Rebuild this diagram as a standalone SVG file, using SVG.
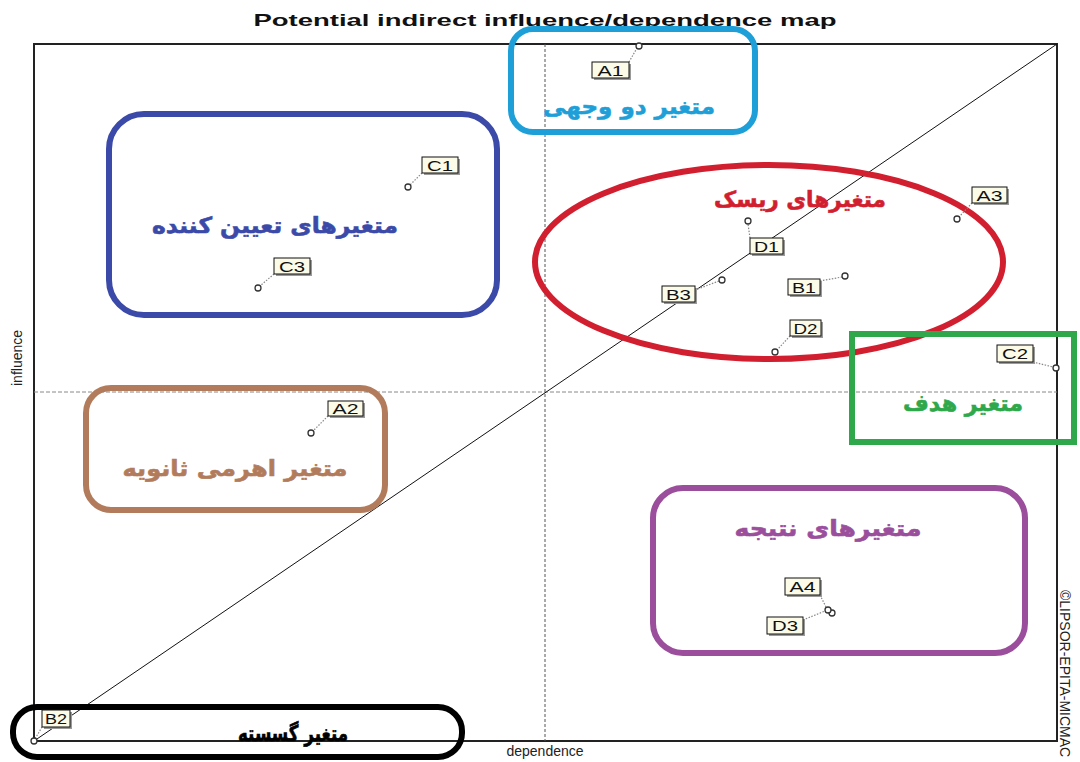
<svg xmlns="http://www.w3.org/2000/svg" width="1080" height="762" viewBox="0 0 1080 762">
<defs>
<style>
.title{font-family:"Liberation Sans",Arial,sans-serif;font-weight:bold;font-size:17px;fill:#111}
.axis{font-family:"Liberation Sans",Arial,sans-serif;font-size:14px;fill:#222}
.lbl{font-family:"Liberation Sans",Arial,sans-serif;font-size:15px;fill:#111}
.box{fill:#fbfbe8;stroke:#111;stroke-width:1}
.shadow{fill:#9a9a9a}
.lead{stroke:#888;stroke-width:1.2;stroke-dasharray:1.5,1.5;fill:none}
.pt{fill:#fff;stroke:#333;stroke-width:1.3}
.fa{font-family:"DejaVu Sans","Noto Sans",sans-serif;font-weight:bold;font-size:22px;stroke-width:0.6}
.grp{fill:none;stroke-width:6}
</style>
</defs>
<rect width="1080" height="762" fill="#fff"/>
<text class="title" x="545" y="26" text-anchor="middle" textLength="583" lengthAdjust="spacingAndGlyphs">Potential indirect influence/dependence map</text>
<g id="frame">
<rect x="34" y="44" width="1023" height="697" fill="none" stroke="#222" stroke-width="2"/>
<line x1="545" y1="44" x2="545" y2="741" stroke="#555" stroke-width="1" stroke-dasharray="3,2"/>
<line x1="34" y1="392" x2="1057" y2="392" stroke="#888" stroke-width="1" stroke-dasharray="4,2"/>
<line x1="34" y1="741" x2="1057" y2="44" stroke="#111" stroke-width="1"/>
<text class="axis" x="545" y="756" text-anchor="middle">dependence</text>
<text class="axis" transform="translate(22,358) rotate(-90)" text-anchor="middle" font-size="13">influence</text>
<text class="axis" transform="translate(1060,590) rotate(90)" font-size="11">©LIPSOR-EPITA-MICMAC</text>
</g>
<g id="groups">
<g id="g-twofold"><rect class="grp" x="511" y="29" width="244" height="103" rx="22" stroke="#1e9fd8"/><text class="fa" x="629" y="114" text-anchor="middle" direction="rtl" fill="#1e9fd8" stroke="#1e9fd8" textLength="172" lengthAdjust="spacingAndGlyphs">متغیر دو وجهی</text></g>
<g id="g-determinant"><rect class="grp" x="109" y="114" width="388" height="201" rx="35" stroke="#3b4aa8"/><text class="fa" x="275" y="233" text-anchor="middle" direction="rtl" fill="#3b4aa8" stroke="#3b4aa8" textLength="246" lengthAdjust="spacingAndGlyphs">متغیرهای تعیین کننده</text></g>
<g id="g-risk"><ellipse class="grp" cx="769" cy="262" rx="234" ry="97" stroke="#d21f2f"/><text class="fa" x="800" y="207" text-anchor="middle" direction="rtl" fill="#d21f2f" stroke="#d21f2f" textLength="172" lengthAdjust="spacingAndGlyphs">متغیرهای ریسک</text></g>
<g id="g-target"><rect class="grp" x="852" y="334" width="222" height="108" stroke="#2ea84a"/><text class="fa" x="963" y="411" text-anchor="middle" direction="rtl" fill="#2ea84a" stroke="#2ea84a" textLength="120" lengthAdjust="spacingAndGlyphs">متغیر هدف</text></g>
<g id="g-secondary"><rect class="grp" x="86" y="388" width="299" height="122" rx="25" stroke="#b27c5c"/><text class="fa" x="235" y="476" text-anchor="middle" direction="rtl" fill="#b27c5c" stroke="#b27c5c" textLength="225" lengthAdjust="spacingAndGlyphs">متغیر اهرمی ثانویه</text></g>
<g id="g-result"><rect class="grp" x="653" y="488" width="372" height="165" rx="30" stroke="#9a4e9c"/><text class="fa" x="828" y="536" text-anchor="middle" direction="rtl" fill="#9a4e9c" stroke="#9a4e9c" textLength="187" lengthAdjust="spacingAndGlyphs">متغیرهای نتیجه</text></g>
<g id="g-autonomous"><rect class="grp" x="13" y="707" width="449" height="50" rx="24" stroke="#000"/><text class="fa" x="293" y="741" text-anchor="middle" direction="rtl" fill="#000" stroke="#000" font-size="20" textLength="110" lengthAdjust="spacingAndGlyphs">متغیر گسسته</text></g>
</g>
<g id="connectors">
<line class="lead" x1="629" y1="62" x2="637" y2="48"/>
<line class="lead" x1="422" y1="173" x2="410" y2="185"/>
<line class="lead" x1="274" y1="274" x2="260" y2="286"/>
<line class="lead" x1="750" y1="238" x2="748" y2="224"/>
<line class="lead" x1="695" y1="290" x2="719" y2="281"/>
<line class="lead" x1="820" y1="281" x2="842" y2="277"/>
<line class="lead" x1="790" y1="336" x2="777" y2="350"/>
<line class="lead" x1="972" y1="203" x2="959" y2="217"/>
<line class="lead" x1="1033" y1="362" x2="1053" y2="367"/>
<line class="lead" x1="328" y1="416" x2="313" y2="431"/>
<line class="lead" x1="820" y1="595" x2="826" y2="607"/>
<line class="lead" x1="803" y1="620" x2="825" y2="611"/>
<line class="lead" x1="42" y1="727" x2="35" y2="739"/>
</g>
<g id="A1"><rect class="shadow" x="594" y="64" width="37" height="16"/><rect class="box" x="592" y="62" width="37" height="16"/><text class="lbl" x="610.5" y="75.5" text-anchor="middle" textLength="26" lengthAdjust="spacingAndGlyphs">A1</text><circle class="pt" cx="639" cy="46" r="3"/></g>
<g id="C1"><rect class="shadow" x="424" y="159" width="36" height="16"/><rect class="box" x="422" y="157" width="36" height="16"/><text class="lbl" x="440" y="170.5" text-anchor="middle" textLength="26" lengthAdjust="spacingAndGlyphs">C1</text><circle class="pt" cx="408" cy="187" r="3"/></g>
<g id="C3"><rect class="shadow" x="276" y="260" width="36" height="16"/><rect class="box" x="274" y="258" width="36" height="16"/><text class="lbl" x="292" y="271.5" text-anchor="middle" textLength="26" lengthAdjust="spacingAndGlyphs">C3</text><circle class="pt" cx="258" cy="288" r="3"/></g>
<g id="D1"><rect class="shadow" x="752" y="240" width="33" height="16"/><rect class="box" x="750" y="238" width="33" height="16"/><text class="lbl" x="766.5" y="251.5" text-anchor="middle" textLength="25" lengthAdjust="spacingAndGlyphs">D1</text><circle class="pt" cx="748" cy="221" r="3"/></g>
<g id="B3"><rect class="shadow" x="664" y="288" width="33" height="16"/><rect class="box" x="662" y="286" width="33" height="16"/><text class="lbl" x="678.5" y="299.5" text-anchor="middle" textLength="25" lengthAdjust="spacingAndGlyphs">B3</text><circle class="pt" cx="722" cy="280" r="3"/></g>
<g id="B1"><rect class="shadow" x="790" y="281" width="32" height="16"/><rect class="box" x="788" y="279" width="32" height="16"/><text class="lbl" x="804" y="292.5" text-anchor="middle" textLength="24" lengthAdjust="spacingAndGlyphs">B1</text><circle class="pt" cx="845" cy="276" r="3"/></g>
<g id="D2"><rect class="shadow" x="792" y="322" width="31" height="16"/><rect class="box" x="790" y="320" width="31" height="16"/><text class="lbl" x="805.5" y="333.5" text-anchor="middle" textLength="24" lengthAdjust="spacingAndGlyphs">D2</text><circle class="pt" cx="775" cy="352" r="3"/></g>
<g id="A3"><rect class="shadow" x="974" y="189" width="35" height="16"/><rect class="box" x="972" y="187" width="35" height="16"/><text class="lbl" x="989.5" y="200.5" text-anchor="middle" textLength="26" lengthAdjust="spacingAndGlyphs">A3</text><circle class="pt" cx="957" cy="219" r="3"/></g>
<g id="C2"><rect class="shadow" x="999" y="347" width="36" height="17"/><rect class="box" x="997" y="345" width="36" height="17"/><text class="lbl" x="1015" y="359" text-anchor="middle" textLength="26" lengthAdjust="spacingAndGlyphs">C2</text><circle class="pt" cx="1056" cy="368" r="3"/></g>
<g id="A2"><rect class="shadow" x="330" y="403" width="35" height="15"/><rect class="box" x="328" y="401" width="35" height="15"/><text class="lbl" x="345.5" y="414" text-anchor="middle" textLength="26" lengthAdjust="spacingAndGlyphs">A2</text><circle class="pt" cx="311" cy="433" r="3"/></g>
<g id="A4"><rect class="shadow" x="787" y="580" width="35" height="17"/><rect class="box" x="785" y="578" width="35" height="17"/><text class="lbl" x="802.5" y="592" text-anchor="middle" textLength="26" lengthAdjust="spacingAndGlyphs">A4</text><circle class="pt" cx="832" cy="613" r="3"/></g>
<g id="D3"><rect class="shadow" x="769" y="619" width="36" height="17"/><rect class="box" x="767" y="617" width="36" height="17"/><text class="lbl" x="785" y="631" text-anchor="middle" textLength="26" lengthAdjust="spacingAndGlyphs">D3</text><circle class="pt" cx="828" cy="610" r="3"/></g>
<g id="B2"><rect class="shadow" x="44" y="712" width="28" height="17"/><rect class="box" x="42" y="710" width="28" height="17"/><text class="lbl" x="56" y="724" text-anchor="middle" textLength="22" lengthAdjust="spacingAndGlyphs">B2</text><circle class="pt" cx="34" cy="741" r="3"/></g>
</svg>
